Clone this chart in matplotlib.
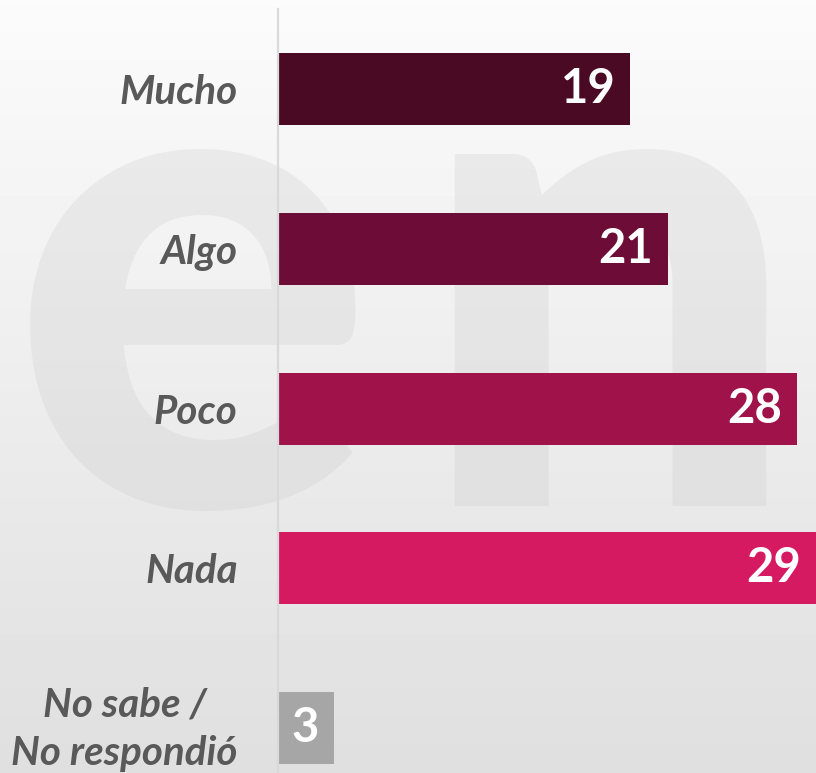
import numpy as np
import matplotlib.pyplot as plt
from matplotlib.transforms import ScaledTranslation

categorias = ["Mucho", "Algo", "Poco", "Nada", "No sabe /\nNo respondió"]
valores = [19, 21, 28, 29, 3]
colores = ["#4A0A24", "#6D0C36", "#A0134A", "#D51A62", "#A6A6A6"]

plt.rcParams['font.family'] = ['Lato', 'DejaVu Sans']

fig = plt.figure(figsize=(8.16, 7.73), dpi=100)

# fondo degradado + marca de agua
bg = fig.add_axes([0, 0, 1, 1], zorder=0)
grad = np.linspace(0.985, 0.875, 256).reshape(-1, 1)
bg.imshow(grad, cmap="gray", vmin=0, vmax=1, aspect="auto", extent=[0, 1, 0, 1])
for letra, xc in [("e", 0.235), ("n", 0.745)]:
    bg.text(xc, 0.345, letra, fontsize=490, fontweight="black", color="#bdbdbd",
            alpha=0.2, ha="center", va="baseline", transform=bg.transAxes)
bg.set_xlim(0, 1)
bg.set_ylim(0, 1)
bg.axis("off")

ax = fig.add_axes([278 / 816, 0, 538 / 816, 764 / 773], zorder=1)
ax.patch.set_alpha(0)
y = np.arange(len(categorias))
ax.barh(y, valores, height=0.45, color=colores)
for yi, v in zip(y, valores):
    ax.text(v - 0.8, yi, str(v), color="white", fontsize=34, fontweight="bold",
            ha="right", va="center")

ax.set_xlim(0, 29)
ax.set_ylim(4.28, -0.5)
ax.set_yticks(y)
ax.set_yticklabels(categorias, fontsize=29, fontweight="bold", fontstyle="italic",
                   color="#595959")
ax.tick_params(axis="y", length=0, pad=29)
ult = ax.get_yticklabels()[-1]
ult.set_multialignment("center")
ult.set_linespacing(1.4)
ult.set_transform(ult.get_transform() + ScaledTranslation(0, 6 / 72, fig.dpi_scale_trans))
ax.set_xticks([])
for s in ["top", "right", "bottom"]:
    ax.spines[s].set_visible(False)
ax.spines["left"].set_color("#d9d9d9")
ax.spines["left"].set_linewidth(1.6)

fig.savefig("out.png", dpi=100)
